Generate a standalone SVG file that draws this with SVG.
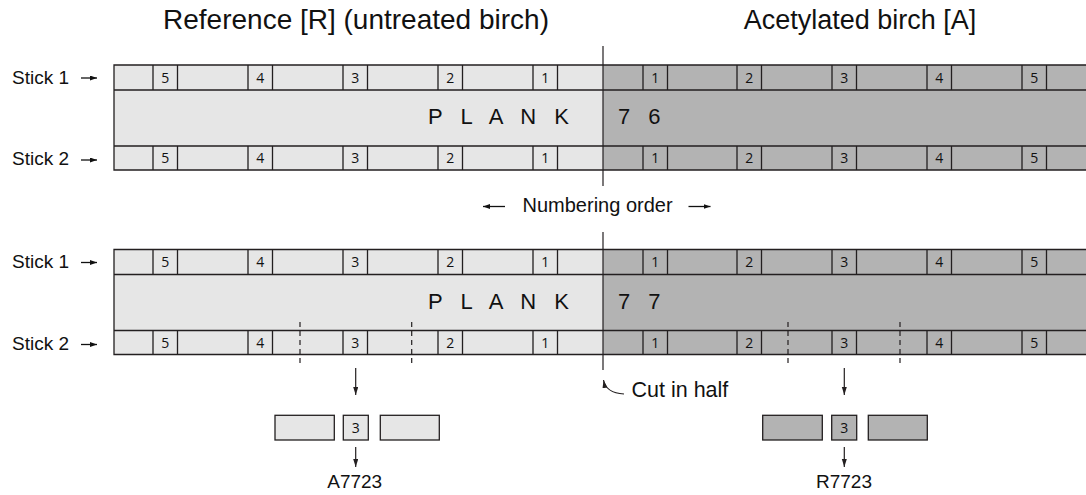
<svg xmlns="http://www.w3.org/2000/svg" width="1086" height="495" viewBox="0 0 1086 495">
<style>
.light{fill:#e6e6e6}
.dark{fill:#b3b3b3}
.ln{fill:none;stroke:#231f20;stroke-width:1.3}
.box{stroke:#231f20;stroke-width:1.3}
.dash{fill:none;stroke:#231f20;stroke-width:1.2;stroke-dasharray:5,4}
.cut{fill:none;stroke:#231f20;stroke-width:1.2}
.arr{fill:none;stroke:#231f20;stroke-width:1.2;marker-end:url(#ah)}
.tarr{fill:none;stroke:#111;stroke-width:1.3;marker-end:url(#th)}
.lbl{font-family:"Liberation Sans",Arial,sans-serif;fill:#111}
.num{font-family:"Open Sans","DejaVu Sans",sans-serif;font-size:14px;fill:#111;text-anchor:middle}
.big{font-family:"Liberation Sans",Arial,sans-serif;font-size:22px;letter-spacing:6px;fill:#111}
</style>
<defs>
<marker id="ah" markerUnits="userSpaceOnUse" markerWidth="8" markerHeight="6" refX="8" refY="2.5" orient="auto">
<path d="M0,0 L8,2.5 L0,5 z" fill="#231f20"/>
</marker>
<marker id="th" markerUnits="userSpaceOnUse" markerWidth="8" markerHeight="6" refX="7" refY="2.5" orient="auto">
<path d="M0,0 L7,2.5 L0,5 z" fill="#111"/>
</marker>
</defs>

<g id="titles">
<text class="lbl" x="356" y="28.5" font-size="28" text-anchor="middle">Reference [R] (untreated birch)</text>
<text class="lbl" x="860" y="28.5" font-size="27" text-anchor="middle">Acetylated birch [A]</text>
</g>

<g id="plank76">
<rect class="light" x="114" y="65" width="489" height="105"/>
<rect class="dark" x="603" y="65" width="485" height="105"/>
<path class="ln" d="M1090,65 H114 V170 H1090 M114,90 H1090 M114,146 H1090
M153,65V90M153,146V170M177.5,65V90M177.5,146V170
M248,65V90M248,146V170M272.5,65V90M272.5,146V170
M343,65V90M343,146V170M367.5,65V90M367.5,146V170
M438,65V90M438,146V170M462.5,65V90M462.5,146V170
M533,65V90M533,146V170M557.5,65V90M557.5,146V170
M643,65V90M643,146V170M667.5,65V90M667.5,146V170
M737,65V90M737,146V170M761.5,65V90M761.5,146V170
M832,65V90M832,146V170M856.5,65V90M856.5,146V170
M927,65V90M927,146V170M951.5,65V90M951.5,146V170
M1022,65V90M1022,146V170M1046.5,65V90M1046.5,146V170"/>
<text class="num" y="82.5"><tspan x="165.3">5</tspan><tspan x="260.3">4</tspan><tspan x="355.3">3</tspan><tspan x="450.3">2</tspan><tspan x="545.3">1</tspan><tspan x="655.3">1</tspan><tspan x="749.3">2</tspan><tspan x="844.3">3</tspan><tspan x="939.3">4</tspan><tspan x="1034.3">5</tspan></text>
<text class="num" y="163"><tspan x="165.3">5</tspan><tspan x="260.3">4</tspan><tspan x="355.3">3</tspan><tspan x="450.3">2</tspan><tspan x="545.3">1</tspan><tspan x="655.3">1</tspan><tspan x="749.3">2</tspan><tspan x="844.3">3</tspan><tspan x="939.3">4</tspan><tspan x="1034.3">5</tspan></text>
<text class="big" x="428" y="124">P L A N K</text>
<text class="big" x="618" y="124">7 6</text>
</g>

<g id="plank77">
<rect class="light" x="114" y="249.5" width="489" height="105"/>
<rect class="dark" x="603" y="249.5" width="485" height="105"/>
<path class="ln" d="M1090,249.5 H114 V354.5 H1090 M114,274.5 H1090 M114,330.5 H1090
M153,249.5V274.5M153,330.5V354.5M177.5,249.5V274.5M177.5,330.5V354.5
M248,249.5V274.5M248,330.5V354.5M272.5,249.5V274.5M272.5,330.5V354.5
M343,249.5V274.5M343,330.5V354.5M367.5,249.5V274.5M367.5,330.5V354.5
M438,249.5V274.5M438,330.5V354.5M462.5,249.5V274.5M462.5,330.5V354.5
M533,249.5V274.5M533,330.5V354.5M557.5,249.5V274.5M557.5,330.5V354.5
M643,249.5V274.5M643,330.5V354.5M667.5,249.5V274.5M667.5,330.5V354.5
M737,249.5V274.5M737,330.5V354.5M761.5,249.5V274.5M761.5,330.5V354.5
M832,249.5V274.5M832,330.5V354.5M856.5,249.5V274.5M856.5,330.5V354.5
M927,249.5V274.5M927,330.5V354.5M951.5,249.5V274.5M951.5,330.5V354.5
M1022,249.5V274.5M1022,330.5V354.5M1046.5,249.5V274.5M1046.5,330.5V354.5"/>
<text class="num" y="267"><tspan x="165.3">5</tspan><tspan x="260.3">4</tspan><tspan x="355.3">3</tspan><tspan x="450.3">2</tspan><tspan x="545.3">1</tspan><tspan x="655.3">1</tspan><tspan x="749.3">2</tspan><tspan x="844.3">3</tspan><tspan x="939.3">4</tspan><tspan x="1034.3">5</tspan></text>
<text class="num" y="347.5"><tspan x="165.3">5</tspan><tspan x="260.3">4</tspan><tspan x="355.3">3</tspan><tspan x="450.3">2</tspan><tspan x="545.3">1</tspan><tspan x="655.3">1</tspan><tspan x="749.3">2</tspan><tspan x="844.3">3</tspan><tspan x="939.3">4</tspan><tspan x="1034.3">5</tspan></text>
<text class="big" x="428" y="308.5">P L A N K</text>
<text class="big" x="618" y="308.5">7 7</text>
</g>

<g id="stick-labels">
<text class="lbl" font-size="19" x="12" y="83.5">Stick 1</text>
<text class="lbl" font-size="19" x="12" y="165">Stick 2</text>
<text class="lbl" font-size="19" x="12" y="268">Stick 1</text>
<text class="lbl" font-size="19" x="12" y="349.5">Stick 2</text>
<path class="tarr" d="M81,78 H97"/>
<path class="tarr" d="M81,160 H97"/>
<path class="tarr" d="M81,262.5 H97"/>
<path class="tarr" d="M81,344.5 H97"/>
</g>

<g id="numbering-order">
<text class="lbl" font-size="20" x="522.5" y="211.7">Numbering order</text>
<path class="tarr" d="M505,206.5 H483"/>
<path class="tarr" d="M688.5,206.5 H710.5"/>
</g>

<g id="pieces-R">
<rect class="light box" x="275" y="415.3" width="59.3" height="24.7"/>
<rect class="light box" x="343.3" y="415.3" width="25" height="24.7"/>
<rect class="light box" x="380.3" y="415.3" width="59" height="24.7"/>
<text class="num" x="355.8" y="432.8">3</text>
<text class="lbl" font-size="19" x="354.7" y="488.3" text-anchor="middle">A7723</text>
</g>

<g id="pieces-A">
<rect class="dark box" x="762.7" y="415.3" width="59.6" height="24.7"/>
<rect class="dark box" x="831.7" y="415.3" width="25" height="24.7"/>
<rect class="dark box" x="868.3" y="415.3" width="59" height="24.7"/>
<text class="num" x="844.2" y="432.8">3</text>
<text class="lbl" font-size="19" x="844" y="488.3" text-anchor="middle">R7723</text>
</g>

<g id="cut-label">
<text class="lbl" font-size="21.5" x="631.5" y="396.7">Cut in half</text>
</g>

<g id="connectors">
<line class="cut" x1="603" y1="46" x2="603" y2="186"/>
<line class="cut" x1="603" y1="232" x2="603" y2="370"/>
<path class="dash" d="M300,322V366 M411.7,322V366 M788,322V366 M900,322V366"/>
<path class="arr" d="M355.7,368 V395"/>
<path class="arr" d="M355.7,447 V467"/>
<path class="arr" d="M844.3,368 V395"/>
<path class="arr" d="M844.3,447 V467"/>
<path class="arr" d="M624,394 Q606,393 603.5,380"/>
</g>
</svg>
